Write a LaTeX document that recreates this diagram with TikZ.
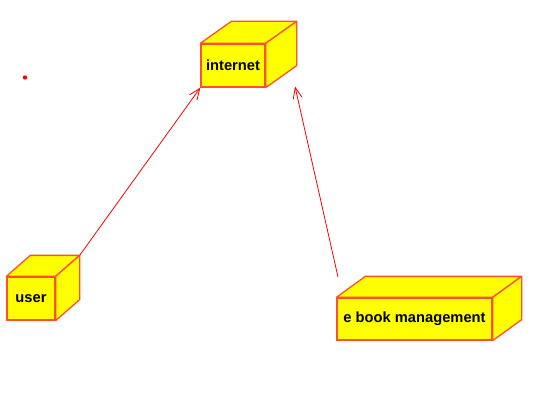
\documentclass[tikz,border=0pt]{standalone}
\usepackage{fontspec}
\setmainfont{Liberation Sans}
\usetikzlibrary{arrows.meta}
\definecolor{nodeborder}{RGB}{255,80,45}
\definecolor{nodefill}{RGB}{255,255,0}
\tikzset{
  front/.style={draw=nodeborder, fill=nodefill, line width=1.3pt, inner sep=0pt,
    font=\fontsize{14.7}{17}\selectfont\bfseries, text=black},
  face/.style={draw=nodeborder, fill=nodefill, line width=1.3pt, line join=round},
  dep/.style={draw=red, line width=0.8pt, -{Straight Barb[length=11pt,width=9pt,line width=0.8pt]}}
}
\newcommand{\cubefaces}[3]{%
  \path[face] (#1.north west) -- ++(#2,#3) -- ([shift={(#2,#3)}]#1.north east) -- (#1.north east) -- cycle;
  \path[face] (#1.north east) -- ++(#2,#3) -- ([shift={(#2,#3)}]#1.south east) -- (#1.south east) -- cycle;
}
\begin{document}
\begin{tikzpicture}[x=1pt,y=-1pt]
\useasboundingbox (0,0) rectangle (537,417);
\fill[white] (0,0) rectangle (537,417);
% nodes
\node[front, minimum width=64pt, minimum height=43pt] (internet) at (233,65.5) {internet};
\cubefaces{internet}{31}{-22}
\node[front, minimum width=48pt, minimum height=43pt] (user) at (31,298.5) {user};
\cubefaces{user}{24}{-21}
\node[front, minimum width=155pt, minimum height=42pt] (ebook) at (414.5,319) {e book management};
\cubefaces{ebook}{29}{-21}
% red dot
\fill[red] (25,77.5) circle (2.2pt);
% connectors
\coordinate (userback) at ([shift={(24,-21)}]user.north east);
\coordinate (ebookstart) at (338,277);
\coordinate (internettip) at (295,86.5);
\draw[dep] (userback) -- (internet.south west);
\draw[dep] (ebookstart) -- (internettip);
\end{tikzpicture}
\end{document}
